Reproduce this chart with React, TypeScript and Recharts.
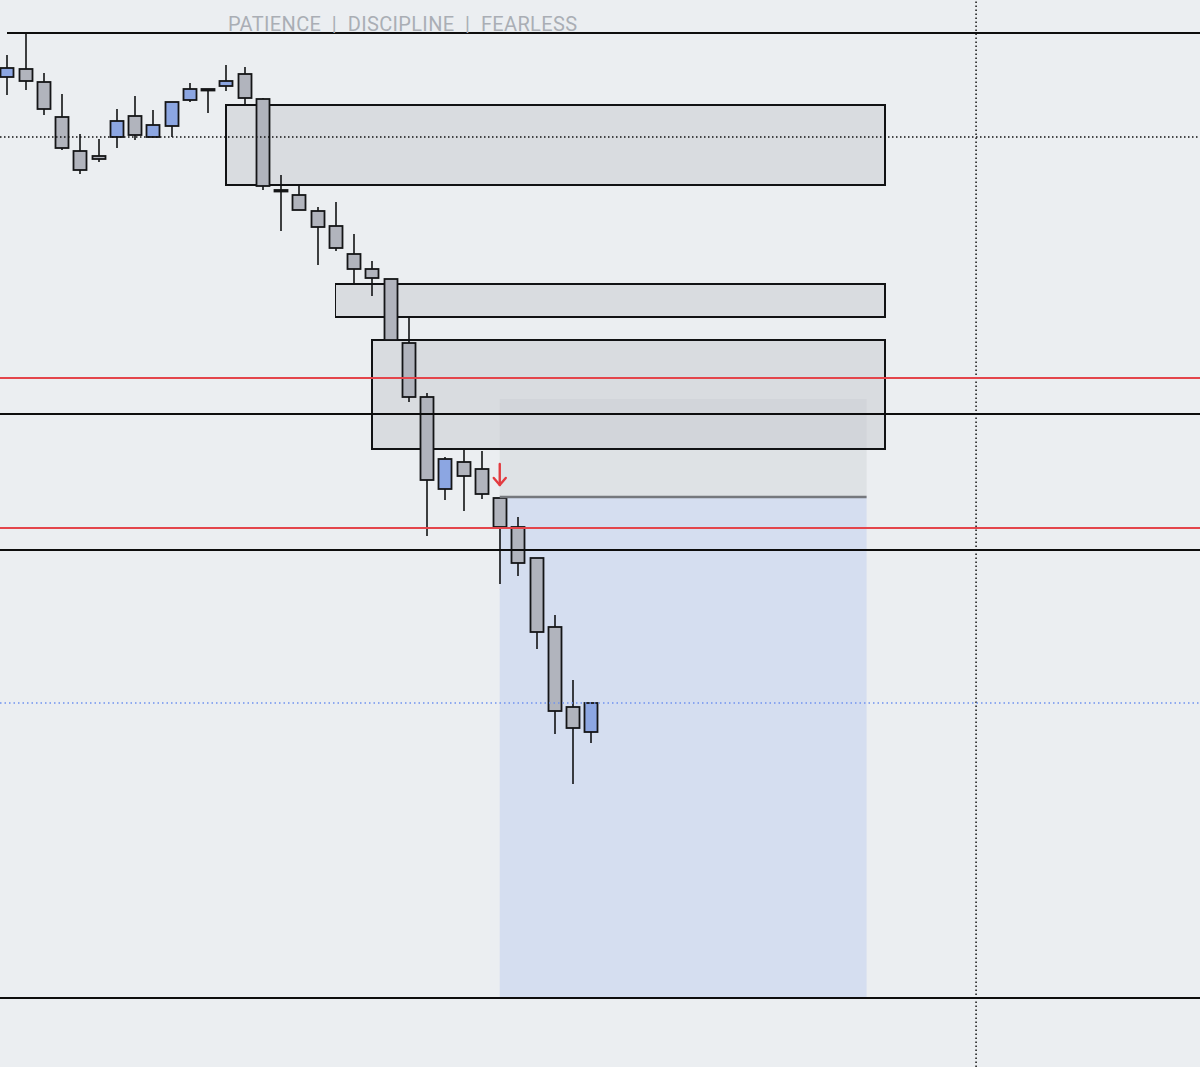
import React from 'react';
import { ComposedChart, Bar, XAxis, YAxis, ReferenceArea, ReferenceLine, ReferenceDot } from 'recharts';

// candle prices (points, higher = up)
const opens = [990, 998, 985, 950, 916, 911, 930, 951, 930, 941, 967, 978, 981, 993, 968, 877, 872, 856, 841, 813, 798, 788, 724, 670, 578, 605, 598, 569, 540, 509, 440, 360, 335];
const highs = [1012, 1034, 994, 973, 933, 928, 958, 971, 957, 965, 984, 978, 1002, 1000, 969, 892, 882, 860, 865, 833, 806, 788, 750, 674, 610, 618, 616, 569, 550, 509, 452, 387, 364];
const lows = [972, 977, 952, 917, 893, 905, 919, 927, 930, 930, 965, 954, 976, 962, 877, 836, 857, 802, 816, 783, 771, 727, 665, 531, 567, 556, 568, 483, 491, 418, 333, 283, 324];
const closes = [999, 986, 958, 919, 897, 908, 946, 932, 942, 965, 978, 978, 986, 969, 881, 877, 857, 840, 819, 798, 789, 727, 670, 587, 608, 591, 573, 540, 504, 435, 356, 339, 364];

// zones: [fromBar, toBar, top, bottom]
const zones = [
  [12, 48.1, 962, 882],
  [18, 48.1, 783, 750],
  [20, 48.1, 727, 618],
];

// short position: entry, stop, target
const posFrom = 27;
const posTo = 47.1;
const entry = 570;
const stop = 668;
const target = 69;

const blackLevels = [653, 517, 69];
const redLevels = [689, 539];
const dottedLevel = 930;
const blueDotted = 364;
const topLevel = 1034;
const timeMarker = 53.1;
const signalBar = 27;
const signalPrice = 592;

const candles = opens.map((o, i) => ({
  i,
  open: o,
  high: highs[i],
  low: lows[i],
  close: closes[i],
}));

const Candle = (props: any) => {
  const { x, y, width, height, payload } = props;
  const { open, close, high, low } = payload;
  const top = Math.min(y, y + height);
  const h = Math.abs(height);
  const ratio = h / (high - low);
  const cx = Math.round(x + width / 2);
  const yO = top + (high - open) * ratio;
  const yC = top + (high - close) * ratio;
  const bodyTop = Math.min(yO, yC);
  const bodyH = Math.max(Math.abs(yC - yO), 1.5);
  const up = close > open;
  return (
    <g>
      <line x1={cx} x2={cx} y1={top} y2={top + h} stroke="#111214" strokeWidth={1.6} />
      <rect
        x={cx - width / 2}
        y={bodyTop}
        width={width}
        height={bodyH}
        fill={up ? '#8ca6e2' : '#b1b4bd'}
        stroke="#141517"
        strokeWidth={1.8}
      />
    </g>
  );
};

const Arrow = (props: any) => {
  const { cx, cy } = props;
  return (
    <g stroke="#e23b40" strokeWidth={2.4} fill="none" strokeLinecap="round" strokeLinejoin="round">
      <line x1={cx} x2={cx} y1={cy - 11} y2={cy + 10} />
      <polyline points={`${cx - 6},${cy + 3} ${cx},${cy + 10} ${cx + 6},${cy + 3}`} />
    </g>
  );
};

export default function App() {
  return (
    <div style={{ position: 'absolute', left: 0, top: 0, width: 1200, height: 1067, background: '#ebeef1', overflow: 'hidden' }}>
      <ComposedChart width={1200} height={1067} data={candles} margin={{ top: 0, right: 0, bottom: 0, left: 0 }}>
        <XAxis dataKey="i" type="number" domain={[-0.384, 65.37]} allowDataOverflow hide />
        <YAxis type="number" domain={[0, 1067]} allowDataOverflow hide />

        <ReferenceArea x1={posFrom} x2={posTo} y1={entry} y2={stop} fill="#cfd2d7" fillOpacity={0.45} stroke="none" />
        <ReferenceArea x1={posFrom} x2={posTo} y1={target} y2={entry} fill="#cad6f0" fillOpacity={0.65} stroke="none" />
        {zones.map((z, k) => (
          <ReferenceArea
            key={k}
            x1={z[0]}
            x2={z[1]}
            y1={z[3]}
            y2={z[2]}
            fill="#c3c6cc"
            fillOpacity={0.45}
            stroke="#111214"
            strokeOpacity={1}
            strokeWidth={1.4}
            shapeRendering="crispEdges"
          />
        ))}

        <ReferenceLine x={timeMarker} stroke="#111" strokeWidth={1.5} strokeDasharray="1.5 2.5" />
        <ReferenceLine y={dottedLevel} stroke="#111" strokeWidth={1.5} strokeDasharray="1.5 2.5" />
        <ReferenceLine y={blueDotted} stroke="#6f93f0" strokeWidth={1.5} strokeDasharray="1.5 3" />
        <ReferenceLine segment={[{ x: 0, y: topLevel }, { x: 65.37, y: topLevel }]} stroke="#0d0d0d" strokeWidth={1.4} shapeRendering="crispEdges" />
        {blackLevels.map((v) => (
          <ReferenceLine key={v} y={v} stroke="#0d0d0d" strokeWidth={1.4} shapeRendering="crispEdges" />
        ))}
        {redLevels.map((v) => (
          <ReferenceLine key={v} y={v} stroke="#e4454b" strokeWidth={1.2} shapeRendering="crispEdges" />
        ))}
        <ReferenceLine segment={[{ x: posFrom, y: entry }, { x: posTo, y: entry }]} stroke="#75787d" strokeWidth={2.5} />

        <Bar
          dataKey={(d: any) => [d.low, d.high]}
          barSize={13}
          shape={<Candle />}
          isAnimationActive={false}
        />
        <ReferenceDot x={signalBar} y={signalPrice} r={0} shape={<Arrow />} />
      </ComposedChart>
      <svg width={600} height={40} style={{ position: 'absolute', left: 0, top: 0 }}>
        <text
          x={228}
          y={31}
          textLength={349}
          fontFamily="Roboto, 'Noto Sans', sans-serif"
          fontSize={20}
          fill="#aaaeb5"
          style={{ whiteSpace: 'pre' }}
        >
          PATIENCE  |  DISCIPLINE  |  FEARLESS
        </text>
      </svg>
    </div>
  );
}
